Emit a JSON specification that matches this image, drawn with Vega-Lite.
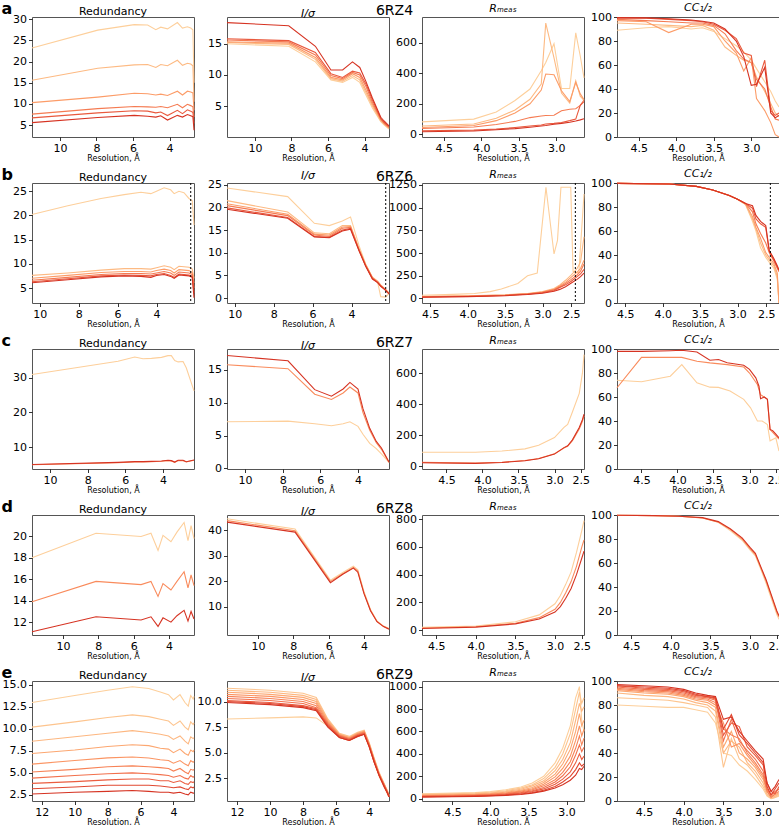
{
"$schema": "https://vega.github.io/schema/vega-lite/v6.json",
"padding": {"left": 0, "top": -1, "right": 0, "bottom": 0},
"columns": 4,
"spacing": {"row": 46, "column": 33},
"bounds": "flush",
"resolve": {"scale": {"color": "independent", "x": "independent", "y": "independent"}},
"config": {
 "font": "DejaVu Sans",
 "view": {"stroke": "#555555", "strokeWidth": 1},
 "axis": {"grid": false, "domain": false, "labelFontSize": 11, "labelColor": "#000000", "tickColor": "#000000", "tickSize": 3.5, "tickWidth": 0.8, "labelPadding": 2, "titleFontWeight": "normal", "titleColor": "#000000", "labelFont": "DejaVu Sans", "titleFont": "DejaVu Sans"},
 "axisX": {"titleFontSize": 8, "titlePadding": 1, "labelFlush": false},
 "axisY": {"labelFlush": false},
 "title": {"font": "DejaVu Sans", "fontSize": 11, "fontWeight": "normal", "color": "#000000", "offset": 4, "frame": "group"},
 "line": {"strokeWidth": 1.1, "clip": true}
},
"concat": [
{"width": 162, "height": 120, "title": {"text": "Redundancy", "offset": -17},
 "data": {"values": [
 {"s":0,"x":11.53,"y":23.2},{"s":0,"x":7.93,"y":27.4},{"s":0,"x":5.93,"y":28.7},{"s":0,"x":5.2,"y":28.6},{"s":0,"x":4.75,"y":27.5},{"s":0,"x":4.48,"y":28.1},{"s":0,"x":4.11,"y":27.7},{"s":0,"x":3.57,"y":29.2},{"s":0,"x":3.29,"y":27.9},{"s":0,"x":3.02,"y":28.2},{"s":0,"x":2.84,"y":27.9},{"s":0,"x":2.72,"y":27.5},{"s":0,"x":2.66,"y":15.0},
 {"s":1,"x":11.53,"y":15.6},{"s":1,"x":7.93,"y":18.4},{"s":1,"x":5.93,"y":19.2},{"s":1,"x":5.2,"y":19.3},{"s":1,"x":4.75,"y":18.6},{"s":1,"x":4.48,"y":19.3},{"s":1,"x":4.11,"y":19.0},{"s":1,"x":3.57,"y":20.3},{"s":1,"x":3.29,"y":19.1},{"s":1,"x":3.02,"y":19.6},{"s":1,"x":2.84,"y":19.4},{"s":1,"x":2.72,"y":19.0},{"s":1,"x":2.66,"y":10.5},
 {"s":2,"x":11.53,"y":10.3},{"s":2,"x":7.93,"y":11.6},{"s":2,"x":5.93,"y":12.5},{"s":2,"x":5.2,"y":12.4},{"s":2,"x":4.75,"y":12.1},{"s":2,"x":4.48,"y":12.3},{"s":2,"x":4.11,"y":12.0},{"s":2,"x":3.57,"y":13.0},{"s":2,"x":3.29,"y":12.1},{"s":2,"x":3.02,"y":13.0},{"s":2,"x":2.84,"y":12.8},{"s":2,"x":2.72,"y":12.6},{"s":2,"x":2.66,"y":8.5},
 {"s":3,"x":11.53,"y":7.6},{"s":3,"x":7.93,"y":8.9},{"s":3,"x":5.93,"y":9.4},{"s":3,"x":5.2,"y":9.3},{"s":3,"x":4.75,"y":9.2},{"s":3,"x":4.48,"y":9.4},{"s":3,"x":4.11,"y":9.1},{"s":3,"x":3.57,"y":9.9},{"s":3,"x":3.29,"y":9.1},{"s":3,"x":3.02,"y":9.9},{"s":3,"x":2.84,"y":9.6},{"s":3,"x":2.72,"y":9.3},{"s":3,"x":2.66,"y":6.9},
 {"s":4,"x":11.53,"y":6.7},{"s":4,"x":7.93,"y":7.9},{"s":4,"x":5.93,"y":8.4},{"s":4,"x":5.2,"y":8.3},{"s":4,"x":4.75,"y":7.9},{"s":4,"x":4.48,"y":8.1},{"s":4,"x":4.11,"y":7.25},{"s":4,"x":3.57,"y":8.5},{"s":4,"x":3.29,"y":7.7},{"s":4,"x":3.02,"y":8.6},{"s":4,"x":2.84,"y":8.3},{"s":4,"x":2.72,"y":8.0},{"s":4,"x":2.66,"y":5.4},
 {"s":5,"x":11.53,"y":5.6},{"s":5,"x":7.93,"y":6.8},{"s":5,"x":5.93,"y":7.3},{"s":5,"x":5.2,"y":7.1},{"s":5,"x":4.75,"y":6.9},{"s":5,"x":4.48,"y":7.2},{"s":5,"x":4.11,"y":6.2},{"s":5,"x":3.57,"y":7.3},{"s":5,"x":3.29,"y":6.9},{"s":5,"x":3.02,"y":7.5},{"s":5,"x":2.84,"y":7.2},{"s":5,"x":2.72,"y":7.0},{"s":5,"x":2.66,"y":3.8}
 ]},
 "mark": "line",
 "encoding": {
  "x": {"field": "x", "type": "quantitative", "scale": {"domain": [11.53, 2.66], "nice": false, "zero": false}, "axis": {"values": [10, 8, 6, 4], "title": "Resolution, Å"}},
  "y": {"field": "y", "type": "quantitative", "scale": {"domain": [2.2, 30.5], "nice": false, "zero": false}, "axis": {"values": [5, 10, 15, 20, 25, 30], "title": "a", "titleAngle": 0, "titleAlign": "left", "titleBaseline": "alphabetic", "titleFontSize": 16, "titleFontWeight": "bold", "titleX": -31, "titleY": -4}},
  "color": {"field": "s", "type": "quantitative", "scale": {"scheme": {"name": "orangered", "extent": [0.1, 0.78]}}, "legend": null},
  "detail": {"field": "s", "type": "nominal"}
 }
},
{"width": 162, "height": 120, "title": {"text": "I/σ", "fontStyle": "italic", "offset": -2},
 "data": {"values": [
 {"s":0,"x":11.53,"y":15.0},{"s":0,"x":8.15,"y":14.6},{"s":0,"x":6.69,"y":12.1},{"s":0,"x":5.84,"y":9.2},{"s":0,"x":5.2,"y":8.8},{"s":0,"x":4.66,"y":9.6},{"s":0,"x":4.26,"y":8.8},{"s":0,"x":3.93,"y":6.8},{"s":0,"x":3.57,"y":4.7},{"s":0,"x":3.11,"y":2.5},{"s":0,"x":2.93,"y":2.0},{"s":0,"x":2.66,"y":1.3},
 {"s":1,"x":11.53,"y":15.2},{"s":1,"x":8.15,"y":14.9},{"s":1,"x":6.69,"y":12.5},{"s":1,"x":5.84,"y":9.4},{"s":1,"x":5.2,"y":9.0},{"s":1,"x":4.66,"y":9.9},{"s":1,"x":4.26,"y":9.2},{"s":1,"x":3.93,"y":7.2},{"s":1,"x":3.57,"y":5.0},{"s":1,"x":3.11,"y":2.6},{"s":1,"x":2.93,"y":2.1},{"s":1,"x":2.66,"y":1.4},
 {"s":2,"x":11.53,"y":15.3},{"s":2,"x":8.15,"y":15.1},{"s":2,"x":6.69,"y":12.8},{"s":2,"x":5.84,"y":9.6},{"s":2,"x":5.2,"y":9.2},{"s":2,"x":4.66,"y":10.2},{"s":2,"x":4.26,"y":9.6},{"s":2,"x":3.93,"y":7.6},{"s":2,"x":3.57,"y":5.3},{"s":2,"x":3.11,"y":2.8},{"s":2,"x":2.93,"y":2.2},{"s":2,"x":2.66,"y":1.5},
 {"s":3,"x":11.53,"y":15.6},{"s":3,"x":8.15,"y":15.3},{"s":3,"x":6.69,"y":13.2},{"s":3,"x":5.84,"y":9.9},{"s":3,"x":5.2,"y":9.4},{"s":3,"x":4.66,"y":10.4},{"s":3,"x":4.26,"y":10.0},{"s":3,"x":3.93,"y":8.2},{"s":3,"x":3.57,"y":5.6},{"s":3,"x":3.11,"y":2.9},{"s":3,"x":2.93,"y":2.3},{"s":3,"x":2.66,"y":1.6},
 {"s":4,"x":11.53,"y":15.8},{"s":4,"x":8.15,"y":15.5},{"s":4,"x":6.69,"y":13.6},{"s":4,"x":5.84,"y":10.2},{"s":4,"x":5.2,"y":9.6},{"s":4,"x":4.66,"y":10.6},{"s":4,"x":4.26,"y":10.3},{"s":4,"x":3.93,"y":8.6},{"s":4,"x":3.57,"y":6.0},{"s":4,"x":3.11,"y":3.0},{"s":4,"x":2.93,"y":2.4},{"s":4,"x":2.66,"y":1.7},
 {"s":5,"x":11.53,"y":18.4},{"s":5,"x":8.15,"y":17.9},{"s":5,"x":6.69,"y":14.6},{"s":5,"x":5.84,"y":10.8},{"s":5,"x":5.2,"y":10.8},{"s":5,"x":4.66,"y":12.1},{"s":5,"x":4.26,"y":11.2},{"s":5,"x":3.93,"y":9.0},{"s":5,"x":3.57,"y":6.3},{"s":5,"x":3.11,"y":3.2},{"s":5,"x":2.93,"y":2.6},{"s":5,"x":2.66,"y":1.8}
 ]},
 "mark": "line",
 "encoding": {
  "x": {"field": "x", "type": "quantitative", "scale": {"domain": [11.53, 2.66], "nice": false, "zero": false}, "axis": {"values": [10, 8, 6, 4], "title": "Resolution, Å"}},
  "y": {"field": "y", "type": "quantitative", "scale": {"domain": [0.03, 19.3], "nice": false, "zero": false}, "axis": {"values": [5, 10, 15], "title": null}},
  "color": {"field": "s", "type": "quantitative", "scale": {"scheme": {"name": "orangered", "extent": [0.1, 0.78]}}, "legend": null},
  "detail": {"field": "s", "type": "nominal"}
 }
},
{"width": 162, "height": 120, "title": {"text": "Rₘₑₐₛ", "fontStyle": "italic", "offset": -11},
 "data": {"values": [
 {"s":0,"x":4.79,"y":82},{"s":0,"x":4.1,"y":100},{"s":0,"x":3.8,"y":146},{"s":0,"x":3.55,"y":222},{"s":0,"x":3.35,"y":297},{"s":0,"x":3.2,"y":416},{"s":0,"x":3.14,"y":470},{"s":0,"x":3.03,"y":593},{"s":0,"x":2.93,"y":300},{"s":0,"x":2.82,"y":300},{"s":0,"x":2.74,"y":664},{"s":0,"x":2.68,"y":513},{"s":0,"x":2.63,"y":370},
 {"s":1,"x":4.79,"y":55},{"s":1,"x":4.1,"y":68},{"s":1,"x":3.8,"y":105},{"s":1,"x":3.55,"y":160},{"s":1,"x":3.35,"y":230},{"s":1,"x":3.2,"y":330},{"s":1,"x":3.14,"y":728},{"s":1,"x":3.03,"y":500},{"s":1,"x":2.93,"y":270},{"s":1,"x":2.82,"y":205},{"s":1,"x":2.74,"y":350},{"s":1,"x":2.68,"y":250},{"s":1,"x":2.63,"y":222},
 {"s":2,"x":4.79,"y":45},{"s":2,"x":4.1,"y":58},{"s":2,"x":3.8,"y":90},{"s":2,"x":3.55,"y":140},{"s":2,"x":3.35,"y":200},{"s":2,"x":3.2,"y":290},{"s":2,"x":3.14,"y":395},{"s":2,"x":3.03,"y":390},{"s":2,"x":2.93,"y":285},{"s":2,"x":2.82,"y":215},{"s":2,"x":2.74,"y":340},{"s":2,"x":2.68,"y":265},{"s":2,"x":2.63,"y":228},
 {"s":3,"x":4.79,"y":39},{"s":3,"x":4.1,"y":48},{"s":3,"x":3.8,"y":65},{"s":3,"x":3.55,"y":85},{"s":3,"x":3.35,"y":110},{"s":3,"x":3.2,"y":120},{"s":3,"x":3.14,"y":124},{"s":3,"x":3.03,"y":125},{"s":3,"x":2.93,"y":155},{"s":3,"x":2.82,"y":165},{"s":3,"x":2.74,"y":168},{"s":3,"x":2.68,"y":190},{"s":3,"x":2.63,"y":225},
 {"s":4,"x":4.79,"y":24},{"s":4,"x":4.1,"y":28},{"s":4,"x":3.8,"y":35},{"s":4,"x":3.55,"y":45},{"s":4,"x":3.35,"y":55},{"s":4,"x":3.2,"y":62},{"s":4,"x":3.14,"y":68},{"s":4,"x":3.03,"y":72},{"s":4,"x":2.93,"y":78},{"s":4,"x":2.82,"y":90},{"s":4,"x":2.74,"y":100},{"s":4,"x":2.68,"y":190},{"s":4,"x":2.63,"y":215},
 {"s":5,"x":4.79,"y":17},{"s":5,"x":4.1,"y":22},{"s":5,"x":3.8,"y":30},{"s":5,"x":3.55,"y":38},{"s":5,"x":3.35,"y":47},{"s":5,"x":3.2,"y":55},{"s":5,"x":3.14,"y":58},{"s":5,"x":3.03,"y":66},{"s":5,"x":2.93,"y":72},{"s":5,"x":2.82,"y":80},{"s":5,"x":2.74,"y":88},{"s":5,"x":2.68,"y":95},{"s":5,"x":2.63,"y":102}
 ]},
 "mark": "line",
 "encoding": {
  "x": {"field": "x", "type": "quantitative", "scale": {"domain": [4.79, 2.63], "nice": false, "zero": false}, "axis": {"values": [4.5, 4.0, 3.5, 3.0], "format": ".1f", "title": "Resolution, Å"}},
  "y": {"field": "y", "type": "quantitative", "scale": {"domain": [-17, 768], "nice": false, "zero": false}, "axis": {"values": [0, 200, 400, 600], "format": "d", "title": "6RZ4", "titleAngle": 0, "titleAlign": "center", "titleBaseline": "alphabetic", "titleFontSize": 14, "titleX": -28, "titleY": -3}},
  "color": {"field": "s", "type": "quantitative", "scale": {"scheme": {"name": "orangered", "extent": [0.1, 0.78]}}, "legend": null},
  "detail": {"field": "s", "type": "nominal"}
 }
},
{"width": 162, "height": 120, "title": {"text": "CC₁/₂", "fontStyle": "italic", "offset": -1.5},
 "data": {"values": [
 {"s":0,"x":4.79,"y":89},{"s":0,"x":4.4,"y":91},{"s":0,"x":4.1,"y":92},{"s":0,"x":3.8,"y":90},{"s":0,"x":3.65,"y":91},{"s":0,"x":3.5,"y":88},{"s":0,"x":3.35,"y":82},{"s":0,"x":3.2,"y":76},{"s":0,"x":3.1,"y":71},{"s":0,"x":3.0,"y":64},{"s":0,"x":2.93,"y":57},{"s":0,"x":2.82,"y":46},{"s":0,"x":2.74,"y":38},{"s":0,"x":2.68,"y":30},{"s":0,"x":2.63,"y":25},
 {"s":1,"x":4.79,"y":95},{"s":1,"x":4.4,"y":94},{"s":1,"x":4.1,"y":93},{"s":1,"x":3.8,"y":92},{"s":1,"x":3.65,"y":93},{"s":1,"x":3.5,"y":89},{"s":1,"x":3.35,"y":75},{"s":1,"x":3.2,"y":68},{"s":1,"x":3.1,"y":64},{"s":1,"x":3.0,"y":62},{"s":1,"x":2.93,"y":50},{"s":1,"x":2.82,"y":38},{"s":1,"x":2.74,"y":28},{"s":1,"x":2.68,"y":20},{"s":1,"x":2.63,"y":17},
 {"s":2,"x":4.79,"y":97},{"s":2,"x":4.4,"y":96},{"s":2,"x":4.1,"y":87},{"s":2,"x":3.8,"y":94},{"s":2,"x":3.65,"y":94},{"s":2,"x":3.5,"y":92},{"s":2,"x":3.35,"y":80},{"s":2,"x":3.2,"y":70},{"s":2,"x":3.1,"y":55},{"s":2,"x":3.0,"y":66},{"s":2,"x":2.93,"y":32},{"s":2,"x":2.82,"y":22},{"s":2,"x":2.74,"y":12},{"s":2,"x":2.68,"y":2},{"s":2,"x":2.63,"y":0},
 {"s":3,"x":4.79,"y":98},{"s":3,"x":4.4,"y":97},{"s":3,"x":4.1,"y":96},{"s":3,"x":3.8,"y":95},{"s":3,"x":3.65,"y":95},{"s":3,"x":3.5,"y":93},{"s":3,"x":3.35,"y":86},{"s":3,"x":3.2,"y":72},{"s":3,"x":3.1,"y":65},{"s":3,"x":3.0,"y":62},{"s":3,"x":2.93,"y":48},{"s":3,"x":2.82,"y":40},{"s":3,"x":2.74,"y":25},{"s":3,"x":2.68,"y":15},{"s":3,"x":2.63,"y":14},
 {"s":4,"x":4.79,"y":99},{"s":4,"x":4.4,"y":99},{"s":4,"x":4.1,"y":98},{"s":4,"x":3.8,"y":97},{"s":4,"x":3.65,"y":96},{"s":4,"x":3.5,"y":94},{"s":4,"x":3.35,"y":89},{"s":4,"x":3.2,"y":82},{"s":4,"x":3.1,"y":70},{"s":4,"x":3.0,"y":68},{"s":4,"x":2.93,"y":42},{"s":4,"x":2.82,"y":64},{"s":4,"x":2.74,"y":22},{"s":4,"x":2.68,"y":18},{"s":4,"x":2.63,"y":20},
 {"s":5,"x":4.79,"y":99.5},{"s":5,"x":4.4,"y":99.3},{"s":5,"x":4.1,"y":98.6},{"s":5,"x":3.8,"y":97.5},{"s":5,"x":3.65,"y":96.5},{"s":5,"x":3.5,"y":95},{"s":5,"x":3.35,"y":90},{"s":5,"x":3.2,"y":80},{"s":5,"x":3.1,"y":67},{"s":5,"x":3.0,"y":43},{"s":5,"x":2.93,"y":44},{"s":5,"x":2.82,"y":58},{"s":5,"x":2.74,"y":20},{"s":5,"x":2.68,"y":16},{"s":5,"x":2.63,"y":18}
 ]},
 "mark": "line",
 "encoding": {
  "x": {"field": "x", "type": "quantitative", "scale": {"domain": [4.79, 2.63], "nice": false, "zero": false}, "axis": {"values": [4.5, 4.0, 3.5, 3.0], "format": ".1f", "title": "Resolution, Å"}},
  "y": {"field": "y", "type": "quantitative", "scale": {"domain": [0, 100], "nice": false, "zero": false}, "axis": {"values": [0, 20, 40, 60, 80, 100], "title": null}},
  "color": {"field": "s", "type": "quantitative", "scale": {"scheme": {"name": "orangered", "extent": [0.1, 0.78]}}, "legend": null},
  "detail": {"field": "s", "type": "nominal"}
 }
},
{"width": 162, "height": 120, "title": {"text": "Redundancy", "offset": -17},
 "encoding": {"x": {"field": "x", "type": "quantitative", "scale": {"domain": [10.4, 4.0, 2.28], "range": [0, 124.5, 162], "nice": false, "zero": false}, "axis": {"values": [10, 8, 6, 4], "title": "Resolution, Å"}}},
 "layer": [
 {"data": {"values": [
 {"s":0,"x":10.4,"y":20.2},{"s":0,"x":8.56,"y":22.0},{"s":0,"x":6.85,"y":23.5},{"s":0,"x":5.66,"y":24.3},{"s":0,"x":4.8,"y":24.8},{"s":0,"x":4.29,"y":24.5},{"s":0,"x":4.0,"y":25.0},{"s":0,"x":3.65,"y":25.7},{"s":0,"x":3.35,"y":25.3},{"s":0,"x":3.19,"y":24.5},{"s":0,"x":2.97,"y":25.0},{"s":0,"x":2.74,"y":24.7},{"s":0,"x":2.51,"y":23.5},{"s":0,"x":2.36,"y":23.0},{"s":0,"x":2.28,"y":18.0},
 {"s":1,"x":10.4,"y":7.6},{"s":1,"x":8.56,"y":8.1},{"s":1,"x":6.85,"y":8.7},{"s":1,"x":5.66,"y":9.0},{"s":1,"x":4.8,"y":9.0},{"s":1,"x":4.29,"y":8.9},{"s":1,"x":4.0,"y":9.2},{"s":1,"x":3.65,"y":9.6},{"s":1,"x":3.35,"y":9.3},{"s":1,"x":3.19,"y":8.8},{"s":1,"x":2.97,"y":9.5},{"s":1,"x":2.74,"y":9.4},{"s":1,"x":2.51,"y":9.3},{"s":1,"x":2.36,"y":8.9},{"s":1,"x":2.28,"y":7.0},
 {"s":2,"x":10.4,"y":7.0},{"s":2,"x":8.56,"y":7.6},{"s":2,"x":6.85,"y":8.2},{"s":2,"x":5.66,"y":8.4},{"s":2,"x":4.8,"y":8.4},{"s":2,"x":4.29,"y":8.3},{"s":2,"x":4.0,"y":8.6},{"s":2,"x":3.65,"y":8.9},{"s":2,"x":3.35,"y":8.6},{"s":2,"x":3.19,"y":8.1},{"s":2,"x":2.97,"y":8.8},{"s":2,"x":2.74,"y":8.7},{"s":2,"x":2.51,"y":8.6},{"s":2,"x":2.36,"y":8.2},{"s":2,"x":2.28,"y":6.0},
 {"s":3,"x":10.4,"y":6.6},{"s":3,"x":8.56,"y":7.2},{"s":3,"x":6.85,"y":7.8},{"s":3,"x":5.66,"y":8.0},{"s":3,"x":4.8,"y":8.0},{"s":3,"x":4.29,"y":7.9},{"s":3,"x":4.0,"y":8.1},{"s":3,"x":3.65,"y":8.4},{"s":3,"x":3.35,"y":8.1},{"s":3,"x":3.19,"y":7.6},{"s":3,"x":2.97,"y":8.3},{"s":3,"x":2.74,"y":8.2},{"s":3,"x":2.51,"y":8.1},{"s":3,"x":2.36,"y":7.8},{"s":3,"x":2.28,"y":5.0},
 {"s":4,"x":10.4,"y":6.3},{"s":4,"x":8.56,"y":6.9},{"s":4,"x":6.85,"y":7.5},{"s":4,"x":5.66,"y":7.7},{"s":4,"x":4.8,"y":7.6},{"s":4,"x":4.29,"y":7.5},{"s":4,"x":4.0,"y":7.8},{"s":4,"x":3.65,"y":8.0},{"s":4,"x":3.35,"y":7.6},{"s":4,"x":3.19,"y":7.2},{"s":4,"x":2.97,"y":7.9},{"s":4,"x":2.74,"y":7.8},{"s":4,"x":2.51,"y":7.7},{"s":4,"x":2.36,"y":7.4},{"s":4,"x":2.28,"y":4.0},
 {"s":5,"x":10.4,"y":6.1},{"s":5,"x":8.56,"y":6.7},{"s":5,"x":6.85,"y":7.3},{"s":5,"x":5.66,"y":7.5},{"s":5,"x":4.8,"y":7.4},{"s":5,"x":4.29,"y":7.2},{"s":5,"x":4.0,"y":7.6},{"s":5,"x":3.65,"y":7.8},{"s":5,"x":3.35,"y":7.4},{"s":5,"x":3.19,"y":7.0},{"s":5,"x":2.97,"y":7.7},{"s":5,"x":2.74,"y":7.6},{"s":5,"x":2.51,"y":7.5},{"s":5,"x":2.36,"y":7.2},{"s":5,"x":2.28,"y":3.0}
 ]},
 "mark": "line",
 "encoding": {
  "y": {"field": "y", "type": "quantitative", "scale": {"domain": [1.9, 26.7], "nice": false, "zero": false}, "axis": {"values": [5, 10, 15, 20, 25], "title": "b", "titleAngle": 0, "titleAlign": "left", "titleBaseline": "alphabetic", "titleFontSize": 16, "titleFontWeight": "bold", "titleX": -31, "titleY": -4}},
  "color": {"field": "s", "type": "quantitative", "scale": {"scheme": {"name": "orangered", "extent": [0.1, 0.78]}}, "legend": null},
  "detail": {"field": "s", "type": "nominal"}
 }},
 {"data": {"values": [{"x": 2.43}]}, "mark": {"type": "rule", "color": "#000000", "strokeDash": [2, 2], "strokeWidth": 1}, "encoding": {}}
 ]
},
{"width": 162, "height": 120, "title": {"text": "I/σ", "fontStyle": "italic", "offset": -2},
 "encoding": {"x": {"field": "x", "type": "quantitative", "scale": {"domain": [10.4, 4.0, 2.28], "range": [0, 124.5, 162], "nice": false, "zero": false}, "axis": {"values": [10, 8, 6, 4], "title": "Resolution, Å"}}},
 "layer": [
 {"data": {"values": [
 {"s":0,"x":10.4,"y":24.3},{"s":0,"x":7.28,"y":22.4},{"s":0,"x":5.91,"y":16.5},{"s":0,"x":5.14,"y":16.0},{"s":0,"x":4.47,"y":17.0},{"s":0,"x":4.05,"y":17.9},{"s":0,"x":3.65,"y":11.5},{"s":0,"x":3.35,"y":7.5},{"s":0,"x":3.04,"y":4.5},{"s":0,"x":2.8,"y":3.5},{"s":0,"x":2.66,"y":0.3},{"s":0,"x":2.43,"y":0.2},{"s":0,"x":2.28,"y":1.0},
 {"s":1,"x":10.4,"y":21.5},{"s":1,"x":7.28,"y":19.0},{"s":1,"x":5.91,"y":14.4},{"s":1,"x":5.14,"y":14.2},{"s":1,"x":4.47,"y":16.0},{"s":1,"x":4.05,"y":16.0},{"s":1,"x":3.65,"y":10.8},{"s":1,"x":3.35,"y":7.4},{"s":1,"x":3.04,"y":4.6},{"s":1,"x":2.8,"y":3.7},{"s":1,"x":2.66,"y":2.9},{"s":1,"x":2.43,"y":1.9},{"s":1,"x":2.28,"y":1.1},
 {"s":2,"x":10.4,"y":20.8},{"s":2,"x":7.28,"y":18.5},{"s":2,"x":5.91,"y":14.1},{"s":2,"x":5.14,"y":13.9},{"s":2,"x":4.47,"y":15.7},{"s":2,"x":4.05,"y":15.8},{"s":2,"x":3.65,"y":10.7},{"s":2,"x":3.35,"y":7.3},{"s":2,"x":3.04,"y":4.5},{"s":2,"x":2.8,"y":3.6},{"s":2,"x":2.66,"y":2.8},{"s":2,"x":2.43,"y":1.8},{"s":2,"x":2.28,"y":1.0},
 {"s":3,"x":10.4,"y":20.4},{"s":3,"x":7.28,"y":18.2},{"s":3,"x":5.91,"y":13.9},{"s":3,"x":5.14,"y":13.6},{"s":3,"x":4.47,"y":15.4},{"s":3,"x":4.05,"y":15.6},{"s":3,"x":3.65,"y":10.6},{"s":3,"x":3.35,"y":7.2},{"s":3,"x":3.04,"y":4.4},{"s":3,"x":2.8,"y":3.5},{"s":3,"x":2.66,"y":2.7},{"s":3,"x":2.43,"y":1.8},{"s":3,"x":2.28,"y":1.0},
 {"s":4,"x":10.4,"y":19.9},{"s":4,"x":7.28,"y":17.8},{"s":4,"x":5.91,"y":13.6},{"s":4,"x":5.14,"y":13.4},{"s":4,"x":4.47,"y":15.0},{"s":4,"x":4.05,"y":15.4},{"s":4,"x":3.65,"y":10.5},{"s":4,"x":3.35,"y":7.1},{"s":4,"x":3.04,"y":4.3},{"s":4,"x":2.8,"y":3.4},{"s":4,"x":2.66,"y":2.7},{"s":4,"x":2.43,"y":1.7},{"s":4,"x":2.28,"y":0.9},
 {"s":5,"x":10.4,"y":19.6},{"s":5,"x":7.28,"y":17.6},{"s":5,"x":5.91,"y":13.5},{"s":5,"x":5.14,"y":13.3},{"s":5,"x":4.47,"y":14.8},{"s":5,"x":4.05,"y":15.2},{"s":5,"x":3.65,"y":10.4},{"s":5,"x":3.35,"y":7.0},{"s":5,"x":3.04,"y":4.2},{"s":5,"x":2.8,"y":3.4},{"s":5,"x":2.66,"y":2.6},{"s":5,"x":2.43,"y":1.7},{"s":5,"x":2.28,"y":0.9}
 ]},
 "mark": "line",
 "encoding": {
  "y": {"field": "y", "type": "quantitative", "scale": {"domain": [-1.1, 25.4], "nice": false, "zero": false}, "axis": {"values": [0, 5, 10, 15, 20, 25], "title": null}},
  "color": {"field": "s", "type": "quantitative", "scale": {"scheme": {"name": "orangered", "extent": [0.1, 0.78]}}, "legend": null},
  "detail": {"field": "s", "type": "nominal"}
 }},
 {"data": {"values": [{"x": 2.43}]}, "mark": {"type": "rule", "color": "#000000", "strokeDash": [2, 2], "strokeWidth": 1}, "encoding": {}}
 ]
},
{"width": 162, "height": 120, "title": {"text": "Rₘₑₐₛ", "fontStyle": "italic", "offset": -11},
 "encoding": {"x": {"field": "x", "type": "quantitative", "scale": {"domain": [4.61, 3.0, 2.28], "range": [0, 120.5, 162], "nice": false, "zero": false}, "axis": {"values": [4.5, 4.0, 3.5, 3.0, 2.5], "format": ".1f", "title": "Resolution, Å"}}},
 "layer": [
 {"data": {"values": [
 {"s":0,"x":4.61,"y":35},{"s":0,"x":4.2,"y":45},{"s":0,"x":3.91,"y":55},{"s":0,"x":3.7,"y":75},{"s":0,"x":3.55,"y":105},{"s":0,"x":3.33,"y":165},{"s":0,"x":3.2,"y":250},{"s":0,"x":3.07,"y":280},{"s":0,"x":2.94,"y":1225},{"s":0,"x":2.8,"y":490},{"s":0,"x":2.74,"y":640},{"s":0,"x":2.68,"y":1225},{"s":0,"x":2.51,"y":1225},{"s":0,"x":2.47,"y":300},{"s":0,"x":2.37,"y":280},{"s":0,"x":2.28,"y":1150},
 {"s":1,"x":4.61,"y":22},{"s":1,"x":4.0,"y":28},{"s":1,"x":3.5,"y":40},{"s":1,"x":3.2,"y":55},{"s":1,"x":3.0,"y":75},{"s":1,"x":2.8,"y":110},{"s":1,"x":2.7,"y":150},{"s":1,"x":2.6,"y":200},{"s":1,"x":2.5,"y":260},{"s":1,"x":2.4,"y":330},{"s":1,"x":2.34,"y":400},{"s":1,"x":2.28,"y":680},
 {"s":2,"x":4.61,"y":20},{"s":2,"x":4.0,"y":26},{"s":2,"x":3.5,"y":37},{"s":2,"x":3.2,"y":52},{"s":2,"x":3.0,"y":70},{"s":2,"x":2.8,"y":100},{"s":2,"x":2.7,"y":140},{"s":2,"x":2.6,"y":180},{"s":2,"x":2.5,"y":235},{"s":2,"x":2.4,"y":290},{"s":2,"x":2.34,"y":330},{"s":2,"x":2.28,"y":420},
 {"s":3,"x":4.61,"y":18},{"s":3,"x":4.0,"y":24},{"s":3,"x":3.5,"y":35},{"s":3,"x":3.2,"y":50},{"s":3,"x":3.0,"y":67},{"s":3,"x":2.8,"y":95},{"s":3,"x":2.7,"y":130},{"s":3,"x":2.6,"y":165},{"s":3,"x":2.5,"y":210},{"s":3,"x":2.4,"y":260},{"s":3,"x":2.34,"y":300},{"s":3,"x":2.28,"y":380},
 {"s":4,"x":4.61,"y":16},{"s":4,"x":4.0,"y":22},{"s":4,"x":3.5,"y":33},{"s":4,"x":3.2,"y":47},{"s":4,"x":3.0,"y":63},{"s":4,"x":2.8,"y":88},{"s":4,"x":2.7,"y":120},{"s":4,"x":2.6,"y":150},{"s":4,"x":2.5,"y":190},{"s":4,"x":2.4,"y":240},{"s":4,"x":2.34,"y":270},{"s":4,"x":2.28,"y":320},
 {"s":5,"x":4.61,"y":14},{"s":5,"x":4.0,"y":20},{"s":5,"x":3.5,"y":30},{"s":5,"x":3.2,"y":44},{"s":5,"x":3.0,"y":58},{"s":5,"x":2.8,"y":80},{"s":5,"x":2.7,"y":100},{"s":5,"x":2.6,"y":130},{"s":5,"x":2.5,"y":170},{"s":5,"x":2.4,"y":210},{"s":5,"x":2.34,"y":240},{"s":5,"x":2.28,"y":280}
 ]},
 "mark": "line",
 "encoding": {
  "y": {"field": "y", "type": "quantitative", "scale": {"domain": [-50, 1272], "nice": false, "zero": false}, "axis": {"values": [0, 250, 500, 750, 1000, 1250], "format": "d", "title": "6RZ6", "titleAngle": 0, "titleAlign": "center", "titleBaseline": "alphabetic", "titleFontSize": 14, "titleX": -28, "titleY": -3}},
  "color": {"field": "s", "type": "quantitative", "scale": {"scheme": {"name": "orangered", "extent": [0.1, 0.78]}}, "legend": null},
  "detail": {"field": "s", "type": "nominal"}
 }},
 {"data": {"values": [{"x": 2.43}]}, "mark": {"type": "rule", "color": "#000000", "strokeDash": [2, 2], "strokeWidth": 1}, "encoding": {}}
 ]
},
{"width": 162, "height": 120, "title": {"text": "CC₁/₂", "fontStyle": "italic", "offset": -1.5},
 "encoding": {"x": {"field": "x", "type": "quantitative", "scale": {"domain": [4.61, 3.0, 2.28], "range": [0, 120.5, 162], "nice": false, "zero": false}, "axis": {"values": [4.5, 4.0, 3.5, 3.0, 2.5], "format": ".1f", "title": "Resolution, Å"}}},
 "layer": [
 {"data": {"values": [
 {"s":0,"x":4.61,"y":99.7},{"s":0,"x":3.91,"y":99.2},{"s":0,"x":3.55,"y":97.2},{"s":0,"x":3.33,"y":94.2},{"s":0,"x":3.11,"y":89.5},{"s":0,"x":3.0,"y":86.5},{"s":0,"x":2.86,"y":82},{"s":0,"x":2.74,"y":68},{"s":0,"x":2.68,"y":60},{"s":0,"x":2.6,"y":46},{"s":0,"x":2.51,"y":38},{"s":0,"x":2.45,"y":34},{"s":0,"x":2.37,"y":29},{"s":0,"x":2.31,"y":20},{"s":0,"x":2.28,"y":0},
 {"s":1,"x":4.61,"y":99.7},{"s":1,"x":3.91,"y":99.2},{"s":1,"x":3.55,"y":97.2},{"s":1,"x":3.33,"y":94.2},{"s":1,"x":3.11,"y":89.5},{"s":1,"x":3.0,"y":86.5},{"s":1,"x":2.86,"y":82},{"s":1,"x":2.74,"y":70},{"s":1,"x":2.68,"y":62},{"s":1,"x":2.6,"y":50},{"s":1,"x":2.51,"y":40},{"s":1,"x":2.45,"y":36},{"s":1,"x":2.37,"y":31},{"s":1,"x":2.31,"y":22},{"s":1,"x":2.28,"y":0},
 {"s":2,"x":4.61,"y":99.7},{"s":2,"x":3.91,"y":99.2},{"s":2,"x":3.55,"y":97.2},{"s":2,"x":3.33,"y":94.2},{"s":2,"x":3.11,"y":89.5},{"s":2,"x":3.0,"y":86.5},{"s":2,"x":2.86,"y":82.5},{"s":2,"x":2.74,"y":72},{"s":2,"x":2.68,"y":63},{"s":2,"x":2.6,"y":54},{"s":2,"x":2.51,"y":42},{"s":2,"x":2.45,"y":38},{"s":2,"x":2.37,"y":33},{"s":2,"x":2.31,"y":25},{"s":2,"x":2.28,"y":0},
 {"s":3,"x":4.61,"y":99.7},{"s":3,"x":3.91,"y":99.2},{"s":3,"x":3.55,"y":97.2},{"s":3,"x":3.33,"y":94.2},{"s":3,"x":3.11,"y":89.5},{"s":3,"x":3.0,"y":86.5},{"s":3,"x":2.86,"y":83},{"s":3,"x":2.74,"y":76},{"s":3,"x":2.68,"y":66},{"s":3,"x":2.6,"y":58},{"s":3,"x":2.51,"y":50},{"s":3,"x":2.45,"y":42},{"s":3,"x":2.37,"y":35},{"s":3,"x":2.31,"y":29},{"s":3,"x":2.28,"y":26},
 {"s":4,"x":4.61,"y":99.7},{"s":4,"x":3.91,"y":99.2},{"s":4,"x":3.55,"y":97.2},{"s":4,"x":3.33,"y":94.2},{"s":4,"x":3.11,"y":89.5},{"s":4,"x":3.0,"y":86.5},{"s":4,"x":2.86,"y":83},{"s":4,"x":2.74,"y":79},{"s":4,"x":2.68,"y":70},{"s":4,"x":2.6,"y":66},{"s":4,"x":2.51,"y":63},{"s":4,"x":2.45,"y":43},{"s":4,"x":2.37,"y":36},{"s":4,"x":2.31,"y":30},{"s":4,"x":2.28,"y":27},
 {"s":5,"x":4.61,"y":99.7},{"s":5,"x":3.91,"y":99.2},{"s":5,"x":3.55,"y":97.2},{"s":5,"x":3.33,"y":94.2},{"s":5,"x":3.11,"y":89.5},{"s":5,"x":3.0,"y":86.5},{"s":5,"x":2.86,"y":83},{"s":5,"x":2.74,"y":81},{"s":5,"x":2.68,"y":73},{"s":5,"x":2.6,"y":68},{"s":5,"x":2.51,"y":64.5},{"s":5,"x":2.45,"y":44},{"s":5,"x":2.37,"y":37},{"s":5,"x":2.31,"y":31},{"s":5,"x":2.28,"y":27.5}
 ]},
 "mark": "line",
 "encoding": {
  "y": {"field": "y", "type": "quantitative", "scale": {"domain": [0, 100], "nice": false, "zero": false}, "axis": {"values": [0, 20, 40, 60, 80, 100], "title": null}},
  "color": {"field": "s", "type": "quantitative", "scale": {"scheme": {"name": "orangered", "extent": [0.1, 0.78]}}, "legend": null},
  "detail": {"field": "s", "type": "nominal"}
 }},
 {"data": {"values": [{"x": 2.43}]}, "mark": {"type": "rule", "color": "#000000", "strokeDash": [2, 2], "strokeWidth": 1}, "encoding": {}}
 ]
},
{"width": 162, "height": 120, "title": {"text": "Redundancy", "offset": -17},
 "data": {"values": [
 {"s":0,"x":10.96,"y":30.9},{"s":0,"x":6.39,"y":34.7},{"s":0,"x":5.5,"y":35.9},{"s":0,"x":5.06,"y":35.4},{"s":0,"x":4.61,"y":35.5},{"s":0,"x":4.08,"y":35.8},{"s":0,"x":3.75,"y":36.3},{"s":0,"x":3.58,"y":36.3},{"s":0,"x":3.41,"y":34.9},{"s":0,"x":3.24,"y":34.5},{"s":0,"x":2.99,"y":34.6},{"s":0,"x":2.83,"y":32.8},{"s":0,"x":2.44,"y":26.2},
 {"s":1,"x":10.96,"y":5.0},{"s":1,"x":6.39,"y":5.6},{"s":1,"x":5.5,"y":5.8},{"s":1,"x":5.06,"y":5.8},{"s":1,"x":4.61,"y":5.9},{"s":1,"x":4.08,"y":6.0},{"s":1,"x":3.75,"y":6.2},{"s":1,"x":3.58,"y":6.1},{"s":1,"x":3.41,"y":5.7},{"s":1,"x":3.24,"y":6.2},{"s":1,"x":2.99,"y":6.2},{"s":1,"x":2.83,"y":5.8},{"s":1,"x":2.44,"y":6.3},
 {"s":2,"x":10.96,"y":5.1},{"s":2,"x":6.39,"y":5.7},{"s":2,"x":5.5,"y":5.9},{"s":2,"x":5.06,"y":5.9},{"s":2,"x":4.61,"y":6.0},{"s":2,"x":4.08,"y":6.1},{"s":2,"x":3.75,"y":6.3},{"s":2,"x":3.58,"y":6.2},{"s":2,"x":3.41,"y":5.8},{"s":2,"x":3.24,"y":6.3},{"s":2,"x":2.99,"y":6.3},{"s":2,"x":2.83,"y":5.9},{"s":2,"x":2.44,"y":6.4}
 ]},
 "mark": "line",
 "encoding": {
  "x": {"field": "x", "type": "quantitative", "scale": {"domain": [10.96, 4.0, 2.44], "range": [0, 131, 162], "nice": false, "zero": false}, "axis": {"values": [10, 8, 6, 4], "title": "Resolution, Å"}},
  "y": {"field": "y", "type": "quantitative", "scale": {"domain": [3.8, 38.2], "nice": false, "zero": false}, "axis": {"values": [10, 20, 30], "title": "c", "titleAngle": 0, "titleAlign": "left", "titleBaseline": "alphabetic", "titleFontSize": 16, "titleFontWeight": "bold", "titleX": -31, "titleY": -4}},
  "color": {"field": "s", "type": "quantitative", "scale": {"scheme": {"name": "orangered", "extent": [0.1, 0.78]}}, "legend": null},
  "detail": {"field": "s", "type": "nominal"}
 }
},
{"width": 162, "height": 120, "title": {"text": "I/σ", "fontStyle": "italic", "offset": -2},
 "data": {"values": [
 {"s":0,"x":10.96,"y":7.1},{"s":0,"x":7.72,"y":7.2},{"s":0,"x":6.3,"y":6.8},{"s":0,"x":5.41,"y":6.5},{"s":0,"x":4.79,"y":6.8},{"s":0,"x":4.43,"y":7.1},{"s":0,"x":4.0,"y":6.4},{"s":0,"x":3.75,"y":5.2},{"s":0,"x":3.41,"y":3.8},{"s":0,"x":3.08,"y":3.0},{"s":0,"x":2.82,"y":2.2},{"s":0,"x":2.44,"y":0.9},
 {"s":1,"x":10.96,"y":15.8},{"s":1,"x":7.72,"y":15.2},{"s":1,"x":6.3,"y":11.3},{"s":1,"x":5.41,"y":10.5},{"s":1,"x":4.79,"y":11.5},{"s":1,"x":4.43,"y":12.4},{"s":1,"x":4.0,"y":11.5},{"s":1,"x":3.75,"y":8.5},{"s":1,"x":3.41,"y":5.8},{"s":1,"x":3.08,"y":3.9},{"s":1,"x":2.82,"y":2.9},{"s":1,"x":2.44,"y":0.9},
 {"s":2,"x":10.96,"y":17.2},{"s":2,"x":7.72,"y":16.4},{"s":2,"x":6.3,"y":12.0},{"s":2,"x":5.41,"y":11.0},{"s":2,"x":4.79,"y":12.1},{"s":2,"x":4.43,"y":13.1},{"s":2,"x":4.0,"y":12.1},{"s":2,"x":3.75,"y":9.1},{"s":2,"x":3.41,"y":6.1},{"s":2,"x":3.08,"y":4.1},{"s":2,"x":2.82,"y":3.1},{"s":2,"x":2.44,"y":0.95}
 ]},
 "mark": "line",
 "encoding": {
  "x": {"field": "x", "type": "quantitative", "scale": {"domain": [10.96, 4.0, 2.44], "range": [0, 131, 162], "nice": false, "zero": false}, "axis": {"values": [10, 8, 6, 4], "title": "Resolution, Å"}},
  "y": {"field": "y", "type": "quantitative", "scale": {"domain": [-0.1, 18.2], "nice": false, "zero": false}, "axis": {"values": [0, 5, 10, 15], "title": null}},
  "color": {"field": "s", "type": "quantitative", "scale": {"scheme": {"name": "orangered", "extent": [0.1, 0.78]}}, "legend": null},
  "detail": {"field": "s", "type": "nominal"}
 }
},
{"width": 162, "height": 120, "title": {"text": "Rₘₑₐₛ", "fontStyle": "italic", "offset": -11},
 "data": {"values": [
 {"s":0,"x":4.84,"y":90},{"s":0,"x":4.1,"y":90},{"s":0,"x":3.73,"y":98},{"s":0,"x":3.41,"y":112},{"s":0,"x":3.22,"y":135},{"s":0,"x":3.0,"y":185},{"s":0,"x":2.82,"y":250},{"s":0,"x":2.75,"y":270},{"s":0,"x":2.66,"y":350},{"s":0,"x":2.53,"y":470},{"s":0,"x":2.47,"y":600},{"s":0,"x":2.44,"y":720},
 {"s":1,"x":4.84,"y":25},{"s":1,"x":4.1,"y":20},{"s":1,"x":3.73,"y":26},{"s":1,"x":3.41,"y":37},{"s":1,"x":3.22,"y":50},{"s":1,"x":3.0,"y":80},{"s":1,"x":2.82,"y":118},{"s":1,"x":2.75,"y":128},{"s":1,"x":2.66,"y":165},{"s":1,"x":2.53,"y":240},{"s":1,"x":2.47,"y":290},{"s":1,"x":2.44,"y":325},
 {"s":2,"x":4.84,"y":22},{"s":2,"x":4.1,"y":18},{"s":2,"x":3.73,"y":24},{"s":2,"x":3.41,"y":35},{"s":2,"x":3.22,"y":48},{"s":2,"x":3.0,"y":78},{"s":2,"x":2.82,"y":120},{"s":2,"x":2.75,"y":132},{"s":2,"x":2.66,"y":170},{"s":2,"x":2.53,"y":250},{"s":2,"x":2.47,"y":300},{"s":2,"x":2.44,"y":335}
 ]},
 "mark": "line",
 "encoding": {
  "x": {"field": "x", "type": "quantitative", "scale": {"domain": [4.84, 3.0, 2.44], "range": [0, 132.5, 162], "nice": false, "zero": false}, "axis": {"values": [4.5, 4.0, 3.5, 3.0, 2.5], "format": ".1f", "title": "Resolution, Å"}},
  "y": {"field": "y", "type": "quantitative", "scale": {"domain": [-18, 756], "nice": false, "zero": false}, "axis": {"values": [0, 200, 400, 600], "format": "d", "title": "6RZ7", "titleAngle": 0, "titleAlign": "center", "titleBaseline": "alphabetic", "titleFontSize": 14, "titleX": -28, "titleY": -3}},
  "color": {"field": "s", "type": "quantitative", "scale": {"scheme": {"name": "orangered", "extent": [0.1, 0.78]}}, "legend": null},
  "detail": {"field": "s", "type": "nominal"}
 }
},
{"width": 162, "height": 120, "title": {"text": "CC₁/₂", "fontStyle": "italic", "offset": -1.5},
 "data": {"values": [
 {"s":0,"x":4.84,"y":74},{"s":0,"x":4.5,"y":72.7},{"s":0,"x":4.1,"y":77.3},{"s":0,"x":3.94,"y":87},{"s":0,"x":3.73,"y":71.8},{"s":0,"x":3.55,"y":68.2},{"s":0,"x":3.43,"y":68},{"s":0,"x":3.27,"y":65},{"s":0,"x":3.08,"y":58},{"s":0,"x":2.98,"y":51},{"s":0,"x":2.85,"y":40},{"s":0,"x":2.76,"y":40},{"s":0,"x":2.66,"y":37},{"s":0,"x":2.61,"y":23.5},{"s":0,"x":2.5,"y":26},{"s":0,"x":2.44,"y":15},
 {"s":1,"x":4.84,"y":67.7},{"s":1,"x":4.5,"y":93},{"s":1,"x":3.94,"y":93},{"s":1,"x":3.73,"y":89.8},{"s":1,"x":3.55,"y":88.4},{"s":1,"x":3.31,"y":87},{"s":1,"x":3.08,"y":85},{"s":1,"x":3.0,"y":80},{"s":1,"x":2.85,"y":70.4},{"s":1,"x":2.79,"y":62},{"s":1,"x":2.66,"y":58},{"s":1,"x":2.61,"y":33},{"s":1,"x":2.44,"y":25},
 {"s":2,"x":4.84,"y":98},{"s":2,"x":4.5,"y":98},{"s":2,"x":4.1,"y":98.6},{"s":2,"x":3.94,"y":98.9},{"s":2,"x":3.73,"y":97.5},{"s":2,"x":3.55,"y":90.6},{"s":2,"x":3.43,"y":91.2},{"s":2,"x":3.31,"y":88.5},{"s":2,"x":3.08,"y":86.5},{"s":2,"x":3.0,"y":83},{"s":2,"x":2.88,"y":76},{"s":2,"x":2.82,"y":69},{"s":2,"x":2.79,"y":58.6},{"s":2,"x":2.72,"y":60},{"s":2,"x":2.66,"y":58},{"s":2,"x":2.61,"y":33},{"s":2,"x":2.56,"y":32},{"s":2,"x":2.5,"y":29},{"s":2,"x":2.44,"y":26}
 ]},
 "mark": "line",
 "encoding": {
  "x": {"field": "x", "type": "quantitative", "scale": {"domain": [4.84, 3.0, 2.44], "range": [0, 132.5, 162], "nice": false, "zero": false}, "axis": {"values": [4.5, 4.0, 3.5, 3.0, 2.5], "format": ".1f", "title": "Resolution, Å"}},
  "y": {"field": "y", "type": "quantitative", "scale": {"domain": [0, 100], "nice": false, "zero": false}, "axis": {"values": [0, 20, 40, 60, 80, 100], "title": null}},
  "color": {"field": "s", "type": "quantitative", "scale": {"scheme": {"name": "orangered", "extent": [0.1, 0.78]}}, "legend": null},
  "detail": {"field": "s", "type": "nominal"}
 }
},
{"width": 162, "height": 120, "title": {"text": "Redundancy", "offset": -17},
 "data": {"values": [
 {"s":0,"x":11.75,"y":18.0},{"s":0,"x":8.13,"y":20.3},{"s":0,"x":5.58,"y":20.0},{"s":0,"x":5.02,"y":20.3},{"s":0,"x":4.62,"y":18.7},{"s":0,"x":4.34,"y":20.1},{"s":0,"x":3.88,"y":19.5},{"s":0,"x":3.51,"y":20.4},{"s":0,"x":3.07,"y":21.3},{"s":0,"x":2.83,"y":19.6},{"s":0,"x":2.64,"y":21.0},{"s":0,"x":2.46,"y":19.8},
 {"s":1,"x":11.75,"y":13.9},{"s":1,"x":8.13,"y":15.8},{"s":1,"x":5.58,"y":15.5},{"s":1,"x":5.02,"y":15.8},{"s":1,"x":4.62,"y":14.4},{"s":1,"x":4.34,"y":15.6},{"s":1,"x":3.88,"y":15.0},{"s":1,"x":3.51,"y":15.8},{"s":1,"x":3.07,"y":16.7},{"s":1,"x":2.83,"y":15.2},{"s":1,"x":2.64,"y":16.4},{"s":1,"x":2.46,"y":15.4},
 {"s":2,"x":11.75,"y":11.1},{"s":2,"x":8.13,"y":12.5},{"s":2,"x":5.58,"y":12.2},{"s":2,"x":5.02,"y":12.5},{"s":2,"x":4.62,"y":11.6},{"s":2,"x":4.34,"y":12.4},{"s":2,"x":3.88,"y":12.0},{"s":2,"x":3.51,"y":12.6},{"s":2,"x":3.07,"y":13.1},{"s":2,"x":2.83,"y":12.1},{"s":2,"x":2.64,"y":13.0},{"s":2,"x":2.46,"y":12.3}
 ]},
 "mark": "line",
 "encoding": {
  "x": {"field": "x", "type": "quantitative", "scale": {"domain": [11.75, 4.0, 2.46], "range": [0, 137, 162], "nice": false, "zero": false}, "axis": {"values": [10, 8, 6, 4], "title": "Resolution, Å"}},
  "y": {"field": "y", "type": "quantitative", "scale": {"domain": [10.8, 22.0], "nice": false, "zero": false}, "axis": {"values": [12, 14, 16, 18, 20], "title": "d", "titleAngle": 0, "titleAlign": "left", "titleBaseline": "alphabetic", "titleFontSize": 16, "titleFontWeight": "bold", "titleX": -31, "titleY": -4}},
  "color": {"field": "s", "type": "quantitative", "scale": {"scheme": {"name": "orangered", "extent": [0.1, 0.78]}}, "legend": null},
  "detail": {"field": "s", "type": "nominal"}
 }
},
{"width": 162, "height": 120, "title": {"text": "I/σ", "fontStyle": "italic", "offset": -2},
 "data": {"values": [
 {"s":0,"x":11.75,"y":44.5},{"s":0,"x":7.9,"y":40.5},{"s":0,"x":5.9,"y":20.5},{"s":0,"x":5.2,"y":23.5},{"s":0,"x":4.6,"y":26},{"s":0,"x":4.35,"y":24.5},{"s":0,"x":4.0,"y":16},{"s":0,"x":3.6,"y":9},{"s":0,"x":3.2,"y":4.5},{"s":0,"x":2.8,"y":2.5},{"s":0,"x":2.46,"y":1.5},
 {"s":1,"x":11.75,"y":43.8},{"s":1,"x":7.9,"y":39.8},{"s":1,"x":5.9,"y":20},{"s":1,"x":5.2,"y":23},{"s":1,"x":4.6,"y":25.5},{"s":1,"x":4.35,"y":24},{"s":1,"x":4.0,"y":15.5},{"s":1,"x":3.6,"y":8.7},{"s":1,"x":3.2,"y":4.3},{"s":1,"x":2.8,"y":2.4},{"s":1,"x":2.46,"y":1.4},
 {"s":2,"x":11.75,"y":43.2},{"s":2,"x":7.9,"y":39.3},{"s":2,"x":5.9,"y":19.5},{"s":2,"x":5.2,"y":22.8},{"s":2,"x":4.6,"y":25.2},{"s":2,"x":4.35,"y":23.6},{"s":2,"x":4.0,"y":15.2},{"s":2,"x":3.6,"y":8.5},{"s":2,"x":3.2,"y":4.2},{"s":2,"x":2.8,"y":2.3},{"s":2,"x":2.46,"y":1.3}
 ]},
 "mark": "line",
 "encoding": {
  "x": {"field": "x", "type": "quantitative", "scale": {"domain": [11.75, 4.0, 2.46], "range": [0, 137, 162], "nice": false, "zero": false}, "axis": {"values": [10, 8, 6, 4], "title": "Resolution, Å"}},
  "y": {"field": "y", "type": "quantitative", "scale": {"domain": [-1, 46], "nice": false, "zero": false}, "axis": {"values": [10, 20, 30, 40], "title": null}},
  "color": {"field": "s", "type": "quantitative", "scale": {"scheme": {"name": "orangered", "extent": [0.1, 0.78]}}, "legend": null},
  "detail": {"field": "s", "type": "nominal"}
 }
},
{"width": 162, "height": 120, "title": {"text": "Rₘₑₐₛ", "fontStyle": "italic", "offset": -11},
 "data": {"values": [
 {"s":0,"x":4.68,"y":20},{"s":0,"x":4.0,"y":30},{"s":0,"x":3.5,"y":60},{"s":0,"x":3.2,"y":110},{"s":0,"x":3.0,"y":190},{"s":0,"x":2.9,"y":250},{"s":0,"x":2.8,"y":330},{"s":0,"x":2.7,"y":420},{"s":0,"x":2.6,"y":560},{"s":0,"x":2.5,"y":720},{"s":0,"x":2.46,"y":790},
 {"s":1,"x":4.68,"y":15},{"s":1,"x":4.0,"y":25},{"s":1,"x":3.5,"y":50},{"s":1,"x":3.2,"y":90},{"s":1,"x":3.0,"y":150},{"s":1,"x":2.9,"y":200},{"s":1,"x":2.8,"y":270},{"s":1,"x":2.7,"y":350},{"s":1,"x":2.6,"y":460},{"s":1,"x":2.5,"y":600},{"s":1,"x":2.46,"y":650},
 {"s":2,"x":4.68,"y":12},{"s":2,"x":4.0,"y":22},{"s":2,"x":3.5,"y":45},{"s":2,"x":3.2,"y":80},{"s":2,"x":3.0,"y":130},{"s":2,"x":2.9,"y":170},{"s":2,"x":2.8,"y":230},{"s":2,"x":2.7,"y":300},{"s":2,"x":2.6,"y":400},{"s":2,"x":2.5,"y":520},{"s":2,"x":2.46,"y":570}
 ]},
 "mark": "line",
 "encoding": {
  "x": {"field": "x", "type": "quantitative", "scale": {"domain": [4.68, 3.0, 2.46], "range": [0, 133, 162], "nice": false, "zero": false}, "axis": {"values": [4.5, 4.0, 3.5, 3.0, 2.5], "format": ".1f", "title": "Resolution, Å"}},
  "y": {"field": "y", "type": "quantitative", "scale": {"domain": [-35, 830], "nice": false, "zero": false}, "axis": {"values": [0, 200, 400, 600, 800], "format": "d", "title": "6RZ8", "titleAngle": 0, "titleAlign": "center", "titleBaseline": "alphabetic", "titleFontSize": 14, "titleX": -28, "titleY": -3}},
  "color": {"field": "s", "type": "quantitative", "scale": {"scheme": {"name": "orangered", "extent": [0.1, 0.78]}}, "legend": null},
  "detail": {"field": "s", "type": "nominal"}
 }
},
{"width": 162, "height": 120, "title": {"text": "CC₁/₂", "fontStyle": "italic", "offset": -1.5},
 "data": {"values": [
 {"s":0,"x":4.68,"y":99.8},{"s":0,"x":4.2,"y":99.5},{"s":0,"x":3.9,"y":99},{"s":0,"x":3.6,"y":97.5},{"s":0,"x":3.4,"y":94},{"s":0,"x":3.25,"y":87},{"s":0,"x":3.1,"y":79},{"s":0,"x":3.0,"y":71},{"s":0,"x":2.9,"y":66},{"s":0,"x":2.8,"y":55},{"s":0,"x":2.7,"y":43},{"s":0,"x":2.6,"y":30},{"s":0,"x":2.5,"y":17},{"s":0,"x":2.46,"y":13},
 {"s":1,"x":4.68,"y":99.8},{"s":1,"x":4.2,"y":99.5},{"s":1,"x":3.9,"y":99},{"s":1,"x":3.6,"y":97.5},{"s":1,"x":3.4,"y":94},{"s":1,"x":3.25,"y":88},{"s":1,"x":3.1,"y":80},{"s":1,"x":3.0,"y":72},{"s":1,"x":2.9,"y":67},{"s":1,"x":2.8,"y":56},{"s":1,"x":2.7,"y":45},{"s":1,"x":2.6,"y":32},{"s":1,"x":2.5,"y":19},{"s":1,"x":2.46,"y":15},
 {"s":2,"x":4.68,"y":99.8},{"s":2,"x":4.2,"y":99.5},{"s":2,"x":3.9,"y":99},{"s":2,"x":3.6,"y":97.8},{"s":2,"x":3.4,"y":94.5},{"s":2,"x":3.25,"y":88.5},{"s":2,"x":3.1,"y":81},{"s":2,"x":3.0,"y":73},{"s":2,"x":2.9,"y":68},{"s":2,"x":2.8,"y":57},{"s":2,"x":2.7,"y":46},{"s":2,"x":2.6,"y":33},{"s":2,"x":2.5,"y":20},{"s":2,"x":2.46,"y":16}
 ]},
 "mark": "line",
 "encoding": {
  "x": {"field": "x", "type": "quantitative", "scale": {"domain": [4.68, 3.0, 2.46], "range": [0, 133, 162], "nice": false, "zero": false}, "axis": {"values": [4.5, 4.0, 3.5, 3.0, 2.5], "format": ".1f", "title": "Resolution, Å"}},
  "y": {"field": "y", "type": "quantitative", "scale": {"domain": [0, 100], "nice": false, "zero": false}, "axis": {"values": [0, 20, 40, 60, 80, 100], "title": null}},
  "color": {"field": "s", "type": "quantitative", "scale": {"scheme": {"name": "orangered", "extent": [0.1, 0.78]}}, "legend": null},
  "detail": {"field": "s", "type": "nominal"}
 }
},
{"width": 162, "height": 120, "title": {"text": "Redundancy", "offset": -17},
 "data": {"values": [
 {"s":0,"x":12.6,"y":13.0},{"s":0,"x":10,"y":13.8},{"s":0,"x":8,"y":14.4},{"s":0,"x":6.5,"y":14.8},{"s":0,"x":5.5,"y":14.6},{"s":0,"x":4.8,"y":14.2},{"s":0,"x":4.3,"y":13.9},{"s":0,"x":4.0,"y":13.3},{"s":0,"x":3.6,"y":13.9},{"s":0,"x":3.3,"y":13.0},{"s":0,"x":3.1,"y":12.6},{"s":0,"x":2.95,"y":13.8},{"s":0,"x":2.8,"y":13.4},{"s":0,"x":2.75,"y":13.7},
 {"s":1,"x":12.6,"y":10.2},{"s":1,"x":10,"y":10.8},{"s":1,"x":8,"y":11.3},{"s":1,"x":6.5,"y":11.6},{"s":1,"x":5.5,"y":11.4},{"s":1,"x":4.8,"y":11.1},{"s":1,"x":4.3,"y":10.9},{"s":1,"x":4.0,"y":10.4},{"s":1,"x":3.6,"y":10.9},{"s":1,"x":3.3,"y":10.2},{"s":1,"x":3.1,"y":9.9},{"s":1,"x":2.95,"y":10.8},{"s":1,"x":2.8,"y":10.5},{"s":1,"x":2.75,"y":10.7},
 {"s":2,"x":12.6,"y":8.6},{"s":2,"x":10,"y":9.1},{"s":2,"x":8,"y":9.5},{"s":2,"x":6.5,"y":9.8},{"s":2,"x":5.5,"y":9.6},{"s":2,"x":4.8,"y":9.4},{"s":2,"x":4.3,"y":9.2},{"s":2,"x":4.0,"y":8.8},{"s":2,"x":3.6,"y":9.2},{"s":2,"x":3.3,"y":8.6},{"s":2,"x":3.1,"y":8.3},{"s":2,"x":2.95,"y":9.1},{"s":2,"x":2.8,"y":8.9},{"s":2,"x":2.75,"y":9.0},
 {"s":3,"x":12.6,"y":7.2},{"s":3,"x":10,"y":7.6},{"s":3,"x":8,"y":8.0},{"s":3,"x":6.5,"y":8.2},{"s":3,"x":5.5,"y":8.1},{"s":3,"x":4.8,"y":7.8},{"s":3,"x":4.3,"y":7.7},{"s":3,"x":4.0,"y":7.3},{"s":3,"x":3.6,"y":7.7},{"s":3,"x":3.3,"y":7.2},{"s":3,"x":3.1,"y":7.0},{"s":3,"x":2.95,"y":7.6},{"s":3,"x":2.8,"y":7.4},{"s":3,"x":2.75,"y":7.6},
 {"s":4,"x":12.6,"y":6.0},{"s":4,"x":10,"y":6.4},{"s":4,"x":8,"y":6.7},{"s":4,"x":6.5,"y":6.8},{"s":4,"x":5.5,"y":6.7},{"s":4,"x":4.8,"y":6.5},{"s":4,"x":4.3,"y":6.4},{"s":4,"x":4.0,"y":6.1},{"s":4,"x":3.6,"y":6.4},{"s":4,"x":3.3,"y":6.0},{"s":4,"x":3.1,"y":5.8},{"s":4,"x":2.95,"y":6.4},{"s":4,"x":2.8,"y":6.2},{"s":4,"x":2.75,"y":6.3},
 {"s":5,"x":12.6,"y":5.1},{"s":5,"x":10,"y":5.4},{"s":5,"x":8,"y":5.7},{"s":5,"x":6.5,"y":5.8},{"s":5,"x":5.5,"y":5.7},{"s":5,"x":4.8,"y":5.6},{"s":5,"x":4.3,"y":5.5},{"s":5,"x":4.0,"y":5.2},{"s":5,"x":3.6,"y":5.5},{"s":5,"x":3.3,"y":5.1},{"s":5,"x":3.1,"y":4.9},{"s":5,"x":2.95,"y":5.4},{"s":5,"x":2.8,"y":5.3},{"s":5,"x":2.75,"y":5.4},
 {"s":6,"x":12.6,"y":4.4},{"s":6,"x":10,"y":4.7},{"s":6,"x":8,"y":4.9},{"s":6,"x":6.5,"y":5.0},{"s":6,"x":5.5,"y":4.9},{"s":6,"x":4.8,"y":4.8},{"s":6,"x":4.3,"y":4.7},{"s":6,"x":4.0,"y":4.5},{"s":6,"x":3.6,"y":4.7},{"s":6,"x":3.3,"y":4.4},{"s":6,"x":3.1,"y":4.3},{"s":6,"x":2.95,"y":4.7},{"s":6,"x":2.8,"y":4.5},{"s":6,"x":2.75,"y":4.6},
 {"s":7,"x":12.6,"y":3.8},{"s":7,"x":10,"y":4.0},{"s":7,"x":8,"y":4.2},{"s":7,"x":6.5,"y":4.3},{"s":7,"x":5.5,"y":4.3},{"s":7,"x":4.8,"y":4.1},{"s":7,"x":4.3,"y":4.1},{"s":7,"x":4.0,"y":3.9},{"s":7,"x":3.6,"y":4.1},{"s":7,"x":3.3,"y":3.8},{"s":7,"x":3.1,"y":3.7},{"s":7,"x":2.95,"y":4.0},{"s":7,"x":2.8,"y":3.9},{"s":7,"x":2.75,"y":4.0},
 {"s":8,"x":12.6,"y":3.2},{"s":8,"x":10,"y":3.4},{"s":8,"x":8,"y":3.6},{"s":8,"x":6.5,"y":3.6},{"s":8,"x":5.5,"y":3.6},{"s":8,"x":4.8,"y":3.5},{"s":8,"x":4.3,"y":3.4},{"s":8,"x":4.0,"y":3.3},{"s":8,"x":3.6,"y":3.4},{"s":8,"x":3.3,"y":3.2},{"s":8,"x":3.1,"y":3.1},{"s":8,"x":2.95,"y":3.4},{"s":8,"x":2.8,"y":3.3},{"s":8,"x":2.75,"y":3.4},
 {"s":9,"x":12.6,"y":2.6},{"s":9,"x":10,"y":2.8},{"s":9,"x":8,"y":2.9},{"s":9,"x":6.5,"y":3.0},{"s":9,"x":5.5,"y":2.9},{"s":9,"x":4.8,"y":2.8},{"s":9,"x":4.3,"y":2.8},{"s":9,"x":4.0,"y":2.7},{"s":9,"x":3.6,"y":2.8},{"s":9,"x":3.3,"y":2.6},{"s":9,"x":3.1,"y":2.5},{"s":9,"x":2.95,"y":2.8},{"s":9,"x":2.8,"y":2.7},{"s":9,"x":2.75,"y":2.7}
 ]},
 "mark": "line",
 "encoding": {
  "x": {"field": "x", "type": "quantitative", "scale": {"domain": [12.6, 2.75], "nice": false, "zero": false}, "axis": {"values": [12, 10, 8, 6, 4], "title": "Resolution, Å"}},
  "y": {"field": "y", "type": "quantitative", "scale": {"domain": [1.8, 15.45], "nice": false, "zero": false}, "axis": {"values": [2.5, 5, 7.5, 10, 12.5, 15], "format": ".1f", "title": "e", "titleAngle": 0, "titleAlign": "left", "titleBaseline": "alphabetic", "titleFontSize": 16, "titleFontWeight": "bold", "titleX": -31, "titleY": -4}},
  "color": {"field": "s", "type": "quantitative", "scale": {"scheme": {"name": "orangered", "extent": [0.1, 0.78]}}, "legend": null},
  "detail": {"field": "s", "type": "nominal"}
 }
},
{"width": 162, "height": 120, "title": {"text": "I/σ", "fontStyle": "italic", "offset": -2},
 "data": {"values": [
 {"s":0,"x":12.6,"y":8.3},{"s":0,"x":10,"y":8.4},{"s":0,"x":8,"y":8.5},{"s":0,"x":7.2,"y":8.4},{"s":0,"x":6.5,"y":7.6},{"s":0,"x":5.8,"y":6.5},{"s":0,"x":5.2,"y":6.2},{"s":0,"x":4.7,"y":6.6},{"s":0,"x":4.3,"y":6.8},{"s":0,"x":4.0,"y":5.6},{"s":0,"x":3.7,"y":4.1},{"s":0,"x":3.4,"y":2.7},{"s":0,"x":3.1,"y":1.7},{"s":0,"x":2.9,"y":1.0},{"s":0,"x":2.8,"y":0.7},
 {"s":1,"x":12.6,"y":11.3},{"s":1,"x":10,"y":11.1},{"s":1,"x":8,"y":10.8},{"s":1,"x":7.2,"y":10.4},{"s":1,"x":6.5,"y":8.3},{"s":1,"x":5.8,"y":6.9},{"s":1,"x":5.2,"y":6.6},{"s":1,"x":4.7,"y":7.0},{"s":1,"x":4.3,"y":7.2},{"s":1,"x":4.0,"y":6.0},{"s":1,"x":3.7,"y":4.5},{"s":1,"x":3.4,"y":3.1},{"s":1,"x":3.1,"y":2.0},{"s":1,"x":2.9,"y":1.3},{"s":1,"x":2.8,"y":0.9},
 {"s":2,"x":12.6,"y":11.1},{"s":2,"x":10,"y":10.9},{"s":2,"x":8,"y":10.6},{"s":2,"x":7.2,"y":10.2},{"s":2,"x":6.5,"y":8.2},{"s":2,"x":5.8,"y":6.8},{"s":2,"x":5.2,"y":6.5},{"s":2,"x":4.7,"y":6.9},{"s":2,"x":4.3,"y":7.1},{"s":2,"x":4.0,"y":5.9},{"s":2,"x":3.7,"y":4.4},{"s":2,"x":3.4,"y":3.0},{"s":2,"x":3.1,"y":2.0},{"s":2,"x":2.9,"y":1.3},{"s":2,"x":2.8,"y":0.9},
 {"s":3,"x":12.6,"y":10.9},{"s":3,"x":10,"y":10.7},{"s":3,"x":8,"y":10.4},{"s":3,"x":7.2,"y":10.0},{"s":3,"x":6.5,"y":8.1},{"s":3,"x":5.8,"y":6.8},{"s":3,"x":5.2,"y":6.5},{"s":3,"x":4.7,"y":6.9},{"s":3,"x":4.3,"y":7.1},{"s":3,"x":4.0,"y":5.9},{"s":3,"x":3.7,"y":4.4},{"s":3,"x":3.4,"y":3.0},{"s":3,"x":3.1,"y":1.9},{"s":3,"x":2.9,"y":1.2},{"s":3,"x":2.8,"y":0.8},
 {"s":4,"x":12.6,"y":10.7},{"s":4,"x":10,"y":10.5},{"s":4,"x":8,"y":10.2},{"s":4,"x":7.2,"y":9.8},{"s":4,"x":6.5,"y":8.0},{"s":4,"x":5.8,"y":6.7},{"s":4,"x":5.2,"y":6.4},{"s":4,"x":4.7,"y":6.8},{"s":4,"x":4.3,"y":7.0},{"s":4,"x":4.0,"y":5.8},{"s":4,"x":3.7,"y":4.3},{"s":4,"x":3.4,"y":2.9},{"s":4,"x":3.1,"y":1.9},{"s":4,"x":2.9,"y":1.2},{"s":4,"x":2.8,"y":0.8},
 {"s":5,"x":12.6,"y":10.5},{"s":5,"x":10,"y":10.3},{"s":5,"x":8,"y":10.0},{"s":5,"x":7.2,"y":9.6},{"s":5,"x":6.5,"y":7.9},{"s":5,"x":5.8,"y":6.7},{"s":5,"x":5.2,"y":6.4},{"s":5,"x":4.7,"y":6.8},{"s":5,"x":4.3,"y":7.0},{"s":5,"x":4.0,"y":5.8},{"s":5,"x":3.7,"y":4.3},{"s":5,"x":3.4,"y":2.9},{"s":5,"x":3.1,"y":1.9},{"s":5,"x":2.9,"y":1.2},{"s":5,"x":2.8,"y":0.8},
 {"s":6,"x":12.6,"y":10.3},{"s":6,"x":10,"y":10.1},{"s":6,"x":8,"y":9.8},{"s":6,"x":7.2,"y":9.4},{"s":6,"x":6.5,"y":7.8},{"s":6,"x":5.8,"y":6.6},{"s":6,"x":5.2,"y":6.3},{"s":6,"x":4.7,"y":6.7},{"s":6,"x":4.3,"y":6.9},{"s":6,"x":4.0,"y":5.7},{"s":6,"x":3.7,"y":4.2},{"s":6,"x":3.4,"y":2.9},{"s":6,"x":3.1,"y":1.8},{"s":6,"x":2.9,"y":1.1},{"s":6,"x":2.8,"y":0.8},
 {"s":7,"x":12.6,"y":10.1},{"s":7,"x":10,"y":9.9},{"s":7,"x":8,"y":9.6},{"s":7,"x":7.2,"y":9.3},{"s":7,"x":6.5,"y":7.7},{"s":7,"x":5.8,"y":6.6},{"s":7,"x":5.2,"y":6.3},{"s":7,"x":4.7,"y":6.7},{"s":7,"x":4.3,"y":6.9},{"s":7,"x":4.0,"y":5.7},{"s":7,"x":3.7,"y":4.2},{"s":7,"x":3.4,"y":2.8},{"s":7,"x":3.1,"y":1.8},{"s":7,"x":2.9,"y":1.1},{"s":7,"x":2.8,"y":0.7},
 {"s":8,"x":12.6,"y":10.0},{"s":8,"x":10,"y":9.8},{"s":8,"x":8,"y":9.5},{"s":8,"x":7.2,"y":9.2},{"s":8,"x":6.5,"y":7.6},{"s":8,"x":5.8,"y":6.5},{"s":8,"x":5.2,"y":6.2},{"s":8,"x":4.7,"y":6.6},{"s":8,"x":4.3,"y":6.8},{"s":8,"x":4.0,"y":5.6},{"s":8,"x":3.7,"y":4.1},{"s":8,"x":3.4,"y":2.8},{"s":8,"x":3.1,"y":1.8},{"s":8,"x":2.9,"y":1.1},{"s":8,"x":2.8,"y":0.7},
 {"s":9,"x":12.6,"y":9.9},{"s":9,"x":10,"y":9.7},{"s":9,"x":8,"y":9.4},{"s":9,"x":7.2,"y":9.1},{"s":9,"x":6.5,"y":7.5},{"s":9,"x":5.8,"y":6.5},{"s":9,"x":5.2,"y":6.2},{"s":9,"x":4.7,"y":6.6},{"s":9,"x":4.3,"y":6.8},{"s":9,"x":4.0,"y":5.6},{"s":9,"x":3.7,"y":4.1},{"s":9,"x":3.4,"y":2.8},{"s":9,"x":3.1,"y":1.7},{"s":9,"x":2.9,"y":1.1},{"s":9,"x":2.8,"y":0.7}
 ]},
 "mark": "line",
 "encoding": {
  "x": {"field": "x", "type": "quantitative", "scale": {"domain": [12.6, 2.8], "nice": false, "zero": false}, "axis": {"values": [12, 10, 8, 6, 4], "title": "Resolution, Å"}},
  "y": {"field": "y", "type": "quantitative", "scale": {"domain": [0.3, 12.0], "nice": false, "zero": false}, "axis": {"values": [2.5, 5, 7.5, 10], "format": ".1f", "title": null}},
  "color": {"field": "s", "type": "quantitative", "scale": {"scheme": {"name": "orangered", "extent": [0.1, 0.78]}}, "legend": null},
  "detail": {"field": "s", "type": "nominal"}
 }
},
{"width": 162, "height": 120, "title": {"text": "Rₘₑₐₛ", "fontStyle": "italic", "offset": -11},
 "data": {"values": [
 {"s":0,"x":4.9,"y":45},{"s":0,"x":4.5,"y":50},{"s":0,"x":4.2,"y":55},{"s":0,"x":4.0,"y":65},{"s":0,"x":3.8,"y":80},{"s":0,"x":3.6,"y":105},{"s":0,"x":3.45,"y":140},{"s":0,"x":3.3,"y":200},{"s":0,"x":3.15,"y":320},{"s":0,"x":3.05,"y":450},{"s":0,"x":2.95,"y":650},{"s":0,"x":2.88,"y":900},{"s":0,"x":2.83,"y":1000},{"s":0,"x":2.8,"y":700},{"s":0,"x":2.77,"y":600},
 {"s":1,"x":4.9,"y":40},{"s":1,"x":4.5,"y":45},{"s":1,"x":4.2,"y":50},{"s":1,"x":4.0,"y":58},{"s":1,"x":3.8,"y":72},{"s":1,"x":3.6,"y":95},{"s":1,"x":3.45,"y":125},{"s":1,"x":3.3,"y":180},{"s":1,"x":3.15,"y":280},{"s":1,"x":3.05,"y":400},{"s":1,"x":2.95,"y":580},{"s":1,"x":2.88,"y":800},{"s":1,"x":2.83,"y":950},{"s":1,"x":2.8,"y":850},{"s":1,"x":2.77,"y":900},
 {"s":2,"x":4.9,"y":35},{"s":2,"x":4.5,"y":40},{"s":2,"x":4.2,"y":45},{"s":2,"x":4.0,"y":52},{"s":2,"x":3.8,"y":65},{"s":2,"x":3.6,"y":85},{"s":2,"x":3.45,"y":115},{"s":2,"x":3.3,"y":160},{"s":2,"x":3.15,"y":250},{"s":2,"x":3.05,"y":350},{"s":2,"x":2.95,"y":500},{"s":2,"x":2.88,"y":700},{"s":2,"x":2.83,"y":850},{"s":2,"x":2.8,"y":780},{"s":2,"x":2.77,"y":820},
 {"s":3,"x":4.9,"y":30},{"s":3,"x":4.5,"y":35},{"s":3,"x":4.2,"y":40},{"s":3,"x":4.0,"y":47},{"s":3,"x":3.8,"y":58},{"s":3,"x":3.6,"y":76},{"s":3,"x":3.45,"y":100},{"s":3,"x":3.3,"y":145},{"s":3,"x":3.15,"y":220},{"s":3,"x":3.05,"y":310},{"s":3,"x":2.95,"y":440},{"s":3,"x":2.88,"y":600},{"s":3,"x":2.83,"y":760},{"s":3,"x":2.8,"y":650},{"s":3,"x":2.77,"y":700},
 {"s":4,"x":4.9,"y":27},{"s":4,"x":4.5,"y":31},{"s":4,"x":4.2,"y":36},{"s":4,"x":4.0,"y":42},{"s":4,"x":3.8,"y":52},{"s":4,"x":3.6,"y":68},{"s":4,"x":3.45,"y":90},{"s":4,"x":3.3,"y":130},{"s":4,"x":3.15,"y":195},{"s":4,"x":3.05,"y":270},{"s":4,"x":2.95,"y":380},{"s":4,"x":2.88,"y":520},{"s":4,"x":2.83,"y":650},{"s":4,"x":2.8,"y":560},{"s":4,"x":2.77,"y":620},
 {"s":5,"x":4.9,"y":24},{"s":5,"x":4.5,"y":28},{"s":5,"x":4.2,"y":32},{"s":5,"x":4.0,"y":38},{"s":5,"x":3.8,"y":47},{"s":5,"x":3.6,"y":61},{"s":5,"x":3.45,"y":80},{"s":5,"x":3.3,"y":115},{"s":5,"x":3.15,"y":170},{"s":5,"x":3.05,"y":235},{"s":5,"x":2.95,"y":330},{"s":5,"x":2.88,"y":450},{"s":5,"x":2.83,"y":560},{"s":5,"x":2.8,"y":480},{"s":5,"x":2.77,"y":540},
 {"s":6,"x":4.9,"y":21},{"s":6,"x":4.5,"y":25},{"s":6,"x":4.2,"y":29},{"s":6,"x":4.0,"y":34},{"s":6,"x":3.8,"y":42},{"s":6,"x":3.6,"y":55},{"s":6,"x":3.45,"y":72},{"s":6,"x":3.3,"y":100},{"s":6,"x":3.15,"y":150},{"s":6,"x":3.05,"y":205},{"s":6,"x":2.95,"y":285},{"s":6,"x":2.88,"y":390},{"s":6,"x":2.83,"y":480},{"s":6,"x":2.8,"y":420},{"s":6,"x":2.77,"y":460},
 {"s":7,"x":4.9,"y":19},{"s":7,"x":4.5,"y":22},{"s":7,"x":4.2,"y":26},{"s":7,"x":4.0,"y":30},{"s":7,"x":3.8,"y":37},{"s":7,"x":3.6,"y":49},{"s":7,"x":3.45,"y":64},{"s":7,"x":3.3,"y":88},{"s":7,"x":3.15,"y":130},{"s":7,"x":3.05,"y":175},{"s":7,"x":2.95,"y":240},{"s":7,"x":2.88,"y":320},{"s":7,"x":2.83,"y":400},{"s":7,"x":2.8,"y":350},{"s":7,"x":2.77,"y":380},
 {"s":8,"x":4.9,"y":17},{"s":8,"x":4.5,"y":20},{"s":8,"x":4.2,"y":23},{"s":8,"x":4.0,"y":27},{"s":8,"x":3.8,"y":33},{"s":8,"x":3.6,"y":43},{"s":8,"x":3.45,"y":56},{"s":8,"x":3.3,"y":76},{"s":8,"x":3.15,"y":110},{"s":8,"x":3.05,"y":150},{"s":8,"x":2.95,"y":200},{"s":8,"x":2.88,"y":260},{"s":8,"x":2.83,"y":320},{"s":8,"x":2.8,"y":290},{"s":8,"x":2.77,"y":310},
 {"s":9,"x":4.9,"y":15},{"s":9,"x":4.5,"y":18},{"s":9,"x":4.2,"y":21},{"s":9,"x":4.0,"y":24},{"s":9,"x":3.8,"y":30},{"s":9,"x":3.6,"y":38},{"s":9,"x":3.45,"y":50},{"s":9,"x":3.3,"y":68},{"s":9,"x":3.15,"y":95},{"s":9,"x":3.05,"y":125},{"s":9,"x":2.95,"y":165},{"s":9,"x":2.88,"y":210},{"s":9,"x":2.83,"y":270},{"s":9,"x":2.8,"y":260},{"s":9,"x":2.77,"y":290}
 ]},
 "mark": "line",
 "encoding": {
  "x": {"field": "x", "type": "quantitative", "scale": {"domain": [4.9, 2.77], "nice": false, "zero": false}, "axis": {"values": [4.5, 4.0, 3.5, 3.0], "format": ".1f", "title": "Resolution, Å"}},
  "y": {"field": "y", "type": "quantitative", "scale": {"domain": [-20, 1050], "nice": false, "zero": false}, "axis": {"values": [0, 200, 400, 600, 800, 1000], "format": "d", "title": "6RZ9", "titleAngle": 0, "titleAlign": "center", "titleBaseline": "alphabetic", "titleFontSize": 14, "titleX": -28, "titleY": -3}},
  "color": {"field": "s", "type": "quantitative", "scale": {"scheme": {"name": "orangered", "extent": [0.1, 0.78]}}, "legend": null},
  "detail": {"field": "s", "type": "nominal"}
 }
},
{"width": 162, "height": 120, "title": {"text": "CC₁/₂", "fontStyle": "italic", "offset": -1.5},
 "data": {"values": [
 {"s":0,"x":4.84,"y":80},{"s":0,"x":4.5,"y":79},{"s":0,"x":4.2,"y":78},{"s":0,"x":4.0,"y":78},{"s":0,"x":3.85,"y":76},{"s":0,"x":3.7,"y":74},{"s":0,"x":3.6,"y":65},{"s":0,"x":3.5,"y":40},{"s":0,"x":3.4,"y":38},{"s":0,"x":3.3,"y":30},{"s":0,"x":3.2,"y":25},{"s":0,"x":3.1,"y":18},{"s":0,"x":3.0,"y":10},{"s":0,"x":2.95,"y":4},{"s":0,"x":2.9,"y":2},{"s":0,"x":2.85,"y":3},{"s":0,"x":2.8,"y":4},
 {"s":1,"x":4.84,"y":86},{"s":1,"x":4.5,"y":85},{"s":1,"x":4.2,"y":84},{"s":1,"x":4.0,"y":82},{"s":1,"x":3.85,"y":80},{"s":1,"x":3.7,"y":78},{"s":1,"x":3.6,"y":70},{"s":1,"x":3.5,"y":28},{"s":1,"x":3.4,"y":52},{"s":1,"x":3.3,"y":35},{"s":1,"x":3.2,"y":30},{"s":1,"x":3.1,"y":22},{"s":1,"x":3.0,"y":12},{"s":1,"x":2.95,"y":5},{"s":1,"x":2.9,"y":2},{"s":1,"x":2.85,"y":3},{"s":1,"x":2.8,"y":5},
 {"s":2,"x":4.84,"y":90},{"s":2,"x":4.5,"y":88},{"s":2,"x":4.2,"y":87},{"s":2,"x":4.0,"y":85},{"s":2,"x":3.85,"y":82},{"s":2,"x":3.7,"y":80},{"s":2,"x":3.6,"y":75},{"s":2,"x":3.5,"y":40},{"s":2,"x":3.4,"y":50},{"s":2,"x":3.3,"y":45},{"s":2,"x":3.2,"y":32},{"s":2,"x":3.1,"y":25},{"s":2,"x":3.0,"y":15},{"s":2,"x":2.95,"y":6},{"s":2,"x":2.9,"y":3},{"s":2,"x":2.85,"y":4},{"s":2,"x":2.8,"y":6},
 {"s":3,"x":4.84,"y":92},{"s":3,"x":4.5,"y":90},{"s":3,"x":4.2,"y":89},{"s":3,"x":4.0,"y":87},{"s":3,"x":3.85,"y":84},{"s":3,"x":3.7,"y":82},{"s":3,"x":3.6,"y":78},{"s":3,"x":3.5,"y":45},{"s":3,"x":3.4,"y":58},{"s":3,"x":3.3,"y":40},{"s":3,"x":3.2,"y":35},{"s":3,"x":3.1,"y":28},{"s":3,"x":3.0,"y":18},{"s":3,"x":2.95,"y":8},{"s":3,"x":2.9,"y":4},{"s":3,"x":2.85,"y":5},{"s":3,"x":2.8,"y":7},
 {"s":4,"x":4.84,"y":93},{"s":4,"x":4.5,"y":91},{"s":4,"x":4.2,"y":90},{"s":4,"x":4.0,"y":88},{"s":4,"x":3.85,"y":85},{"s":4,"x":3.7,"y":84},{"s":4,"x":3.6,"y":80},{"s":4,"x":3.5,"y":65},{"s":4,"x":3.4,"y":45},{"s":4,"x":3.3,"y":48},{"s":4,"x":3.2,"y":38},{"s":4,"x":3.1,"y":30},{"s":4,"x":3.0,"y":20},{"s":4,"x":2.95,"y":10},{"s":4,"x":2.9,"y":5},{"s":4,"x":2.85,"y":7},{"s":4,"x":2.8,"y":10},
 {"s":5,"x":4.84,"y":94},{"s":5,"x":4.5,"y":92},{"s":5,"x":4.2,"y":91},{"s":5,"x":4.0,"y":89},{"s":5,"x":3.85,"y":86},{"s":5,"x":3.7,"y":85},{"s":5,"x":3.6,"y":82},{"s":5,"x":3.5,"y":60},{"s":5,"x":3.4,"y":55},{"s":5,"x":3.3,"y":52},{"s":5,"x":3.2,"y":40},{"s":5,"x":3.1,"y":32},{"s":5,"x":3.0,"y":22},{"s":5,"x":2.95,"y":8},{"s":5,"x":2.9,"y":3},{"s":5,"x":2.85,"y":6},{"s":5,"x":2.8,"y":8},
 {"s":6,"x":4.84,"y":95},{"s":6,"x":4.5,"y":93},{"s":6,"x":4.2,"y":92},{"s":6,"x":4.0,"y":90},{"s":6,"x":3.85,"y":87},{"s":6,"x":3.7,"y":86},{"s":6,"x":3.6,"y":84},{"s":6,"x":3.5,"y":50},{"s":6,"x":3.4,"y":68},{"s":6,"x":3.3,"y":50},{"s":6,"x":3.2,"y":42},{"s":6,"x":3.1,"y":35},{"s":6,"x":3.0,"y":25},{"s":6,"x":2.95,"y":10},{"s":6,"x":2.9,"y":5},{"s":6,"x":2.85,"y":8},{"s":6,"x":2.8,"y":10},
 {"s":7,"x":4.84,"y":96},{"s":7,"x":4.5,"y":94},{"s":7,"x":4.2,"y":93},{"s":7,"x":4.0,"y":91},{"s":7,"x":3.85,"y":88},{"s":7,"x":3.7,"y":87},{"s":7,"x":3.6,"y":85},{"s":7,"x":3.5,"y":55},{"s":7,"x":3.4,"y":65},{"s":7,"x":3.3,"y":62},{"s":7,"x":3.2,"y":45},{"s":7,"x":3.1,"y":38},{"s":7,"x":3.0,"y":30},{"s":7,"x":2.95,"y":15},{"s":7,"x":2.9,"y":8},{"s":7,"x":2.85,"y":6},{"s":7,"x":2.8,"y":12},
 {"s":8,"x":4.84,"y":96},{"s":8,"x":4.5,"y":95},{"s":8,"x":4.2,"y":94},{"s":8,"x":4.0,"y":92},{"s":8,"x":3.85,"y":89},{"s":8,"x":3.7,"y":87},{"s":8,"x":3.6,"y":86},{"s":8,"x":3.5,"y":60},{"s":8,"x":3.4,"y":72},{"s":8,"x":3.3,"y":55},{"s":8,"x":3.2,"y":48},{"s":8,"x":3.1,"y":40},{"s":8,"x":3.0,"y":32},{"s":8,"x":2.95,"y":12},{"s":8,"x":2.9,"y":5},{"s":8,"x":2.85,"y":10},{"s":8,"x":2.8,"y":15},
 {"s":9,"x":4.84,"y":97},{"s":9,"x":4.5,"y":96},{"s":9,"x":4.2,"y":95},{"s":9,"x":4.0,"y":93},{"s":9,"x":3.85,"y":90},{"s":9,"x":3.7,"y":88},{"s":9,"x":3.6,"y":87},{"s":9,"x":3.5,"y":68},{"s":9,"x":3.4,"y":70},{"s":9,"x":3.3,"y":58},{"s":9,"x":3.2,"y":50},{"s":9,"x":3.1,"y":42},{"s":9,"x":3.0,"y":35},{"s":9,"x":2.95,"y":15},{"s":9,"x":2.9,"y":8},{"s":9,"x":2.85,"y":12},{"s":9,"x":2.8,"y":18}
 ]},
 "mark": "line",
 "encoding": {
  "x": {"field": "x", "type": "quantitative", "scale": {"domain": [4.84, 2.8], "nice": false, "zero": false}, "axis": {"values": [4.5, 4.0, 3.5, 3.0], "format": ".1f", "title": "Resolution, Å"}},
  "y": {"field": "y", "type": "quantitative", "scale": {"domain": [0, 100], "nice": false, "zero": false}, "axis": {"values": [0, 20, 40, 60, 80, 100], "title": null}},
  "color": {"field": "s", "type": "quantitative", "scale": {"scheme": {"name": "orangered", "extent": [0.1, 0.78]}}, "legend": null},
  "detail": {"field": "s", "type": "nominal"}
 }
}
]
}
